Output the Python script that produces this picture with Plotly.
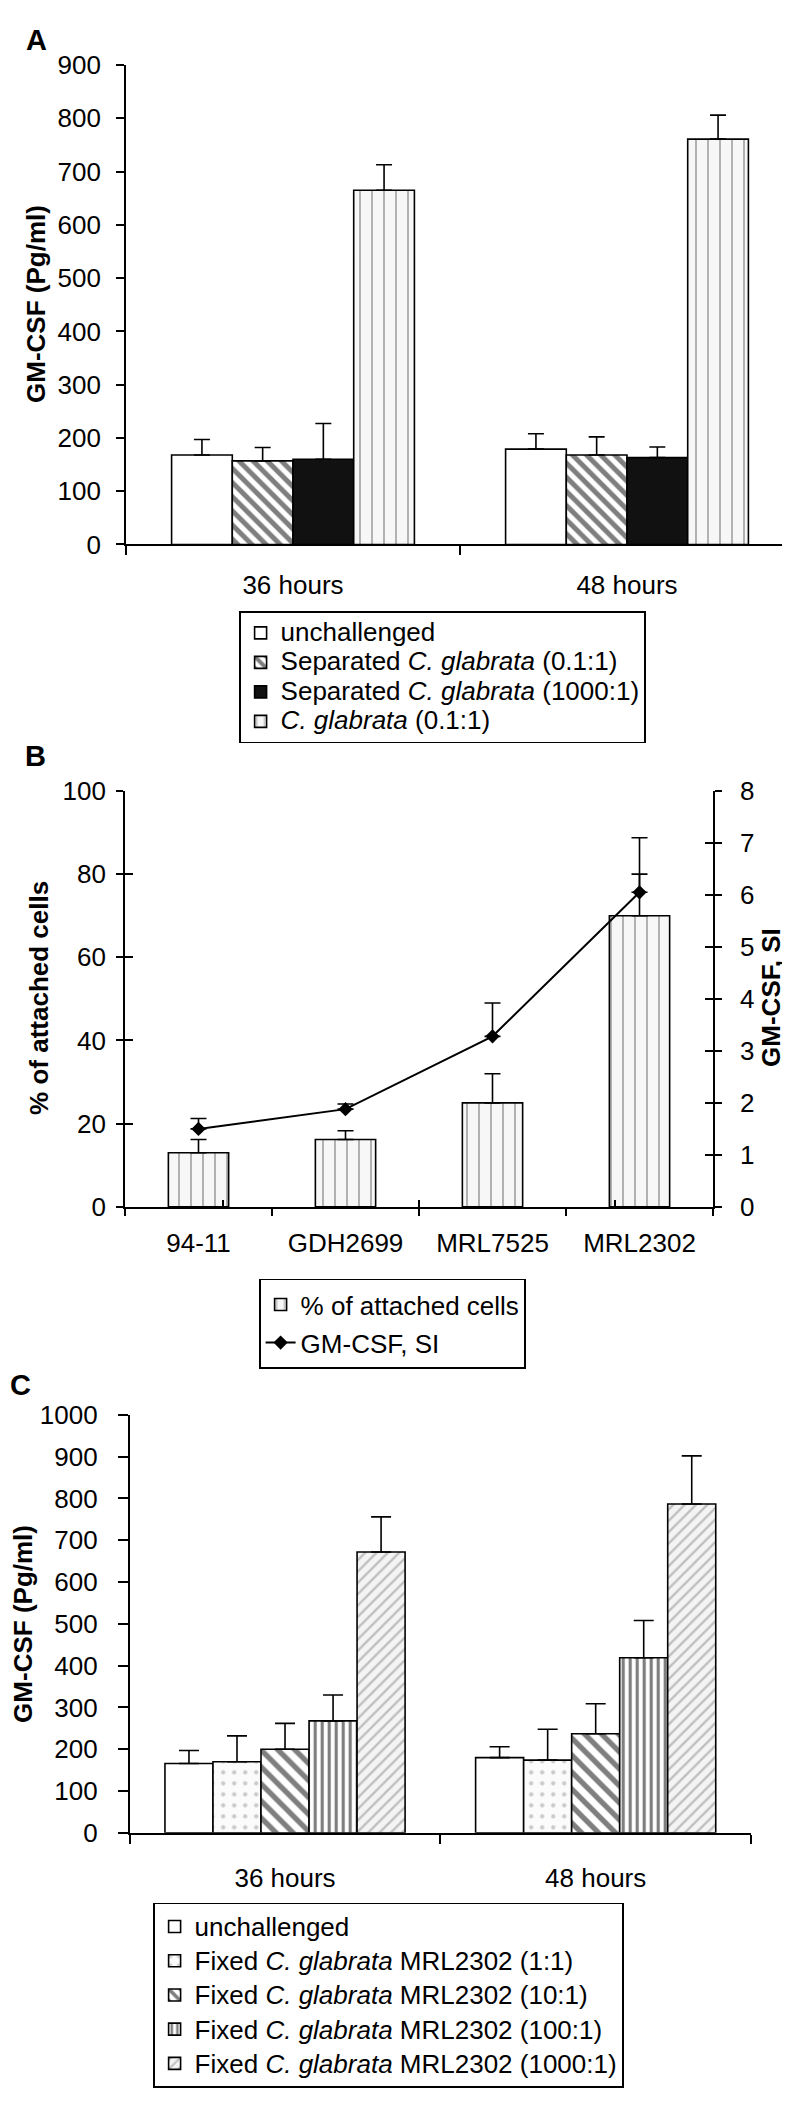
import plotly.graph_objects as go

W, H = 790, 2107
FONT = "Arial, Liberation Sans, sans-serif"

# ---------------- data ----------------
# Panel A
a_categories = ["36 hours", "48 hours"]
a_names = ["unchallenged",
           "Separated <i>C. glabrata</i> (0.1:1)",
           "Separated <i>C. glabrata</i> (1000:1)",
           "<i>C. glabrata</i> (0.1:1)"]
a_unchallenged = [168, 179]
a_sep_01 = [157, 168]
a_sep_1000 = [160, 163]
a_cg_01 = [665, 761]
a_err_unchallenged = [29, 29]
a_err_sep_01 = [25, 34]
a_err_sep_1000 = [67, 20]
a_err_cg_01 = [48, 45]
a_yticks = [0, 100, 200, 300, 400, 500, 600, 700, 800, 900]

# Panel B
b_strains = ["94-11", "GDH2699", "MRL7525", "MRL2302"]
b_attached = [13, 16.2, 25, 70]
b_attached_err = [3.2, 2.1, 7, 10]
b_si = [1.5, 1.88, 3.28, 6.05]
b_si_err = [0.2, 0.1, 0.64, 1.05]
b_names = ["% of attached cells", "GM-CSF, SI"]
b_yticks_left = [0, 20, 40, 60, 80, 100]
b_yticks_right = [0, 1, 2, 3, 4, 5, 6, 7, 8]

# Panel C
c_categories = ["36 hours", "48 hours"]
c_names = ["unchallenged",
           "Fixed <i>C. glabrata</i> MRL2302 (1:1)",
           "Fixed <i>C. glabrata</i> MRL2302 (10:1)",
           "Fixed <i>C. glabrata</i> MRL2302 (100:1)",
           "Fixed <i>C. glabrata</i> MRL2302 (1000:1)"]
c_unchallenged = [166, 180]
c_fixed_1 = [170, 174]
c_fixed_10 = [200, 237]
c_fixed_100 = [268, 419]
c_fixed_1000 = [672, 787]
c_err_unchallenged = [31, 26]
c_err_fixed_1 = [62, 74]
c_err_fixed_10 = [62, 72]
c_err_fixed_100 = [62, 89]
c_err_fixed_1000 = [84, 115]
c_yticks = [0, 100, 200, 300, 400, 500, 600, 700, 800, 900, 1000]

# ---------------- helpers ----------------
def px(x):
    return x / W

def py(y):
    return 1 - y / H

def big(text, size=26):
    return '<span style="font-size:%dpx">%s</span>' % (size, text)

fig = go.Figure()

def err(arr, width):
    return dict(type="data", array=arr, arrayminus=[0] * len(arr), symmetric=False,
                color="black", thickness=1.6, width=width)

# ---------------- Panel A ----------------
a_values = [a_unchallenged, a_sep_01, a_sep_1000, a_cg_01]
a_errors = [a_err_unchallenged, a_err_sep_01, a_err_sep_1000, a_err_cg_01]
a_styles = [
    dict(color="white"),
    dict(color="white", pattern=dict(shape="\\", fgcolor="black", bgcolor="white", size=10, solidity=0.5)),
    dict(color="#111111"),
    dict(color="#f7f7f7", pattern=dict(shape="|", fgcolor="#666666", bgcolor="#f7f7f7", size=12, solidity=0.16)),
]
a_group = 0.727
a_bw = a_group / len(a_values)
for i, (vals, errs, sty) in enumerate(zip(a_values, a_errors, a_styles)):
    fig.add_trace(go.Bar(
        x=a_categories, y=vals, name=big(a_names[i]),
        width=a_bw, offset=-a_group / 2 + i * a_bw,
        marker=dict(line=dict(color="black", width=1.6), **sty),
        error_y=err(errs, 8),
        xaxis="x", yaxis="y", legend="legend",
    ))

# ---------------- Panel B ----------------
fig.add_trace(go.Bar(
    x=b_strains, y=b_attached, name=big(b_names[0]),
    width=0.41, offset=-0.205,
    marker=dict(color="#f7f7f7", line=dict(color="black", width=1.6),
                pattern=dict(shape="|", fgcolor="#666666", bgcolor="#f7f7f7", size=12, solidity=0.16)),
    error_y=err(b_attached_err, 8),
    xaxis="x2", yaxis="y2", legend="legend2",
))
fig.add_trace(go.Scatter(
    x=b_strains, y=b_si, name=big(b_names[1]), mode="lines+markers",
    line=dict(color="black", width=2),
    marker=dict(symbol="diamond", size=11, color="black"),
    error_y=err(b_si_err, 8),
    xaxis="x2", yaxis="y3", legend="legend2",
))
# invisible helpers for the inner half of B's crossing ticks
fig.add_trace(go.Scatter(x=b_strains, y=b_attached, mode="none", showlegend=False,
                         hoverinfo="skip", xaxis="x4", yaxis="y4"))
fig.add_trace(go.Scatter(x=b_strains, y=b_si, mode="none", showlegend=False,
                         hoverinfo="skip", xaxis="x4", yaxis="y5"))

# ---------------- Panel C ----------------
c_values = [c_unchallenged, c_fixed_1, c_fixed_10, c_fixed_100, c_fixed_1000]
c_errors = [c_err_unchallenged, c_err_fixed_1, c_err_fixed_10, c_err_fixed_100, c_err_fixed_1000]
c_styles = [
    dict(color="white"),
    dict(color="#fbfbfb", pattern=dict(shape=".", fgcolor="#9a9a9a", bgcolor="#fbfbfb", size=11, solidity=0.12)),
    dict(color="white", pattern=dict(shape="\\", fgcolor="black", bgcolor="white", size=12, solidity=0.45)),
    dict(color="white", pattern=dict(shape="|", fgcolor="black", bgcolor="white", size=7, solidity=0.45)),
    dict(color="#f4f4f4", pattern=dict(shape="/", fgcolor="#8a8a8a", bgcolor="#f4f4f4", size=8, solidity=0.3)),
]
c_group = 0.773
c_bw = c_group / len(c_values)
for i, (vals, errs, sty) in enumerate(zip(c_values, c_errors, c_styles)):
    fig.add_trace(go.Bar(
        x=c_categories, y=vals, name=big(c_names[i]),
        width=c_bw, offset=-c_group / 2 + i * c_bw,
        marker=dict(line=dict(color="black", width=1.6), **sty),
        error_y=err(errs, 10),
        xaxis="x3", yaxis="y6", legend="legend3",
    ))

# ---------------- axes ----------------
tickfont = dict(family=FONT, size=26, color="black")
base_axis = dict(showgrid=False, zeroline=False, showline=True, linecolor="black", linewidth=1.6,
                 ticks="outside", tickcolor="black", tickwidth=1.6, tickfont=tickfont)

fig.update_layout(
    width=W, height=H, margin=dict(l=0, r=0, t=0, b=0),
    paper_bgcolor="white", plot_bgcolor="white",
    barmode="group", font=dict(family=FONT, color="black"),
    # Panel A
    xaxis=dict(base_axis, domain=[px(118), px(786)], anchor="y", type="category",
               tickson="boundaries", ticklen=9, ticklabelstandoff=17),
    yaxis=dict(base_axis, domain=[py(529), py(42.7)], anchor="x", range=[0, 900],
               tickvals=a_yticks, ticklen=8, ticklabelstandoff=10),
    # Panel B
    xaxis2=dict(base_axis, domain=[px(117), px(705)], anchor="y2", type="category",
                categoryarray=b_strains, tickson="boundaries", ticklen=7, ticklabelstandoff=12),
    yaxis2=dict(base_axis, domain=[py(1201), py(779)], anchor="x2", range=[0, 100],
                tickvals=b_yticks_left, ticklen=7, ticklabelstandoff=5),
    yaxis3=dict(base_axis, overlaying="y2", side="right", anchor="x2", range=[0, 8],
                tickvals=b_yticks_right, ticklen=7, ticklabelstandoff=13),
    xaxis4=dict(showgrid=False, zeroline=False, showline=False, overlaying="x2", anchor="y2",
                type="category", categoryarray=b_strains, tickson="boundaries",
                ticks="inside", ticklen=7, tickwidth=1.6, tickcolor="black", showticklabels=False),
    yaxis4=dict(showgrid=False, zeroline=False, showline=False, overlaying="y2", anchor="x2",
                side="left", range=[0, 100], tickvals=b_yticks_left, ticks="inside", ticklen=8,
                tickwidth=1.6, tickcolor="black", showticklabels=False),
    yaxis5=dict(showgrid=False, zeroline=False, showline=False, overlaying="y2", anchor="x2",
                side="right", range=[0, 8], tickvals=b_yticks_right, ticks="inside", ticklen=8,
                tickwidth=1.6, tickcolor="black", showticklabels=False),
    # Panel C
    xaxis3=dict(base_axis, domain=[px(121.7), px(743)], anchor="y6", type="category",
                tickson="boundaries", ticklen=9, ticklabelstandoff=21),
    yaxis6=dict(base_axis, domain=[py(1836), py(1412)], anchor="x3", range=[0, 1000],
                tickvals=c_yticks, ticklen=10, ticklabelstandoff=15),
)

legend_base = dict(bgcolor="white", bordercolor="black", borderwidth=1.6,
                   xanchor="left", yanchor="top", traceorder="normal")
fig.update_layout(
    legend=dict(legend_base, x=px(231), y=py(597), font=dict(family=FONT, size=20.4, color="black")),
    legend2=dict(legend_base, x=px(251), y=py(1274), font=dict(family=FONT, size=27, color="black")),
    legend3=dict(legend_base, x=px(145), y=py(1907), font=dict(family=FONT, size=24, color="black")),
)

# ---------------- titles / panel letters ----------------
def ann(x, y, text, size, angle=0):
    fig.add_annotation(x=px(x), y=py(y), xref="paper", yref="paper", text=text, showarrow=False,
                       textangle=angle, xanchor="center", yanchor="middle",
                       font=dict(family=FONT, size=size, color="black"))

ann(28.5, 17.5, "<b>A</b>", 29)
ann(27, 743.5, "<b>B</b>", 29)
ann(12.5, 1381.7, "<b>C</b>", 29)
ann(28, 285, "<b>GM-CSF (Pg/ml)</b>", 26, -90)
ann(31, 989, "<b>% of attached cells</b>", 26, -90)
ann(763, 989, "<b>GM-CSF, SI</b>", 26, -90)
ann(15, 1624, "<b>GM-CSF (Pg/ml)</b>", 26, -90)

fig.write_html("out.html")
